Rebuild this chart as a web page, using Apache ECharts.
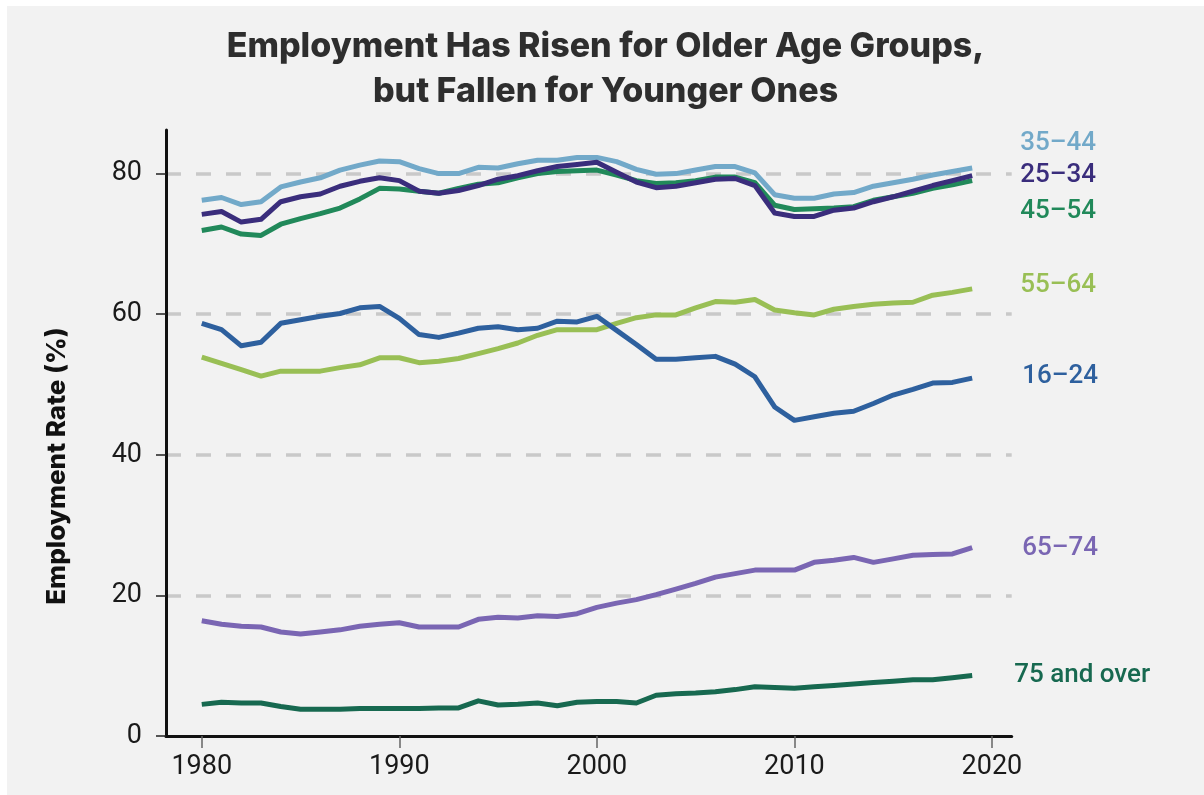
<!DOCTYPE html>
<html>
<head>
<meta charset="utf-8">
<script src="https://cdn.jsdelivr.net/npm/echarts@6/dist/echarts.min.js"></script>
<style>
  html, body { margin: 0; padding: 0; background: #ffffff; width: 1204px; height: 795px; overflow: hidden; }
  #chart { position: absolute; left: 7px; top: 6px; width: 1197px; height: 789px; background: #f2f2f2; }
</style>
</head>
<body>
<div id="chart"></div>
<script>
const years = [1980,1981,1982,1983,1984,1985,1986,1987,1988,1989,
               1990,1991,1992,1993,1994,1995,1996,1997,1998,1999,
               2000,2001,2002,2003,2004,2005,2006,2007,2008,2009,
               2010,2011,2012,2013,2014,2015,2016,2017,2018,2019];

const age35_44 = [76.2,76.6,75.6,76.0,78.1,78.8,79.4,80.5,81.2,81.8,
                  81.7,80.7,80.0,80.0,80.9,80.8,81.4,81.9,81.9,82.3,
                  82.3,81.7,80.6,79.9,80.0,80.5,81.0,81.0,80.1,77.0,
                  76.5,76.5,77.1,77.3,78.2,78.7,79.2,79.8,80.3,80.8];
const age25_34 = [74.2,74.6,73.1,73.5,76.0,76.7,77.1,78.2,78.9,79.4,
                  79.0,77.5,77.2,77.6,78.3,79.2,79.7,80.4,81.0,81.3,
                  81.6,80.2,78.8,78.0,78.2,78.7,79.2,79.3,78.3,74.4,
                  73.9,73.9,74.8,75.1,76.0,76.7,77.5,78.3,79.0,79.7];
const age45_54 = [71.9,72.4,71.4,71.2,72.8,73.6,74.3,75.1,76.4,77.9,
                  77.8,77.5,77.2,77.9,78.5,78.7,79.4,80.0,80.3,80.4,
                  80.5,79.8,79.0,78.6,78.7,79.0,79.5,79.5,78.7,75.5,
                  74.9,75.0,75.1,75.3,76.2,76.7,77.2,77.9,78.4,79.0];
const age55_64 = [53.9,53.0,52.1,51.2,51.9,51.9,51.9,52.4,52.8,53.8,
                  53.8,53.1,53.3,53.7,54.4,55.1,55.9,57.0,57.8,57.8,
                  57.8,58.7,59.5,59.9,59.9,60.9,61.8,61.7,62.1,60.6,
                  60.2,59.9,60.7,61.1,61.4,61.6,61.7,62.7,63.1,63.6];
const age16_24 = [58.7,57.8,55.5,56.0,58.7,59.2,59.7,60.1,60.9,61.1,
                  59.4,57.1,56.7,57.3,58.0,58.2,57.8,58.0,59.0,58.9,
                  59.7,57.7,55.7,53.6,53.6,53.8,54.0,52.9,51.1,46.8,
                  44.9,45.4,45.9,46.2,47.3,48.5,49.3,50.2,50.3,50.9];
const age65_74 = [16.4,15.9,15.6,15.5,14.8,14.5,14.8,15.1,15.6,15.9,
                  16.1,15.5,15.5,15.5,16.6,16.9,16.8,17.1,17.0,17.4,
                  18.3,18.9,19.4,20.1,20.9,21.7,22.6,23.1,23.6,23.6,
                  23.6,24.7,25.0,25.4,24.7,25.2,25.7,25.8,25.9,26.8];
const age75plus = [4.5,4.8,4.7,4.7,4.2,3.8,3.8,3.8,3.9,3.9,
                   3.9,3.9,4.0,4.0,5.0,4.4,4.5,4.7,4.3,4.8,
                   4.9,4.9,4.7,5.8,6.0,6.1,6.3,6.6,7.0,6.9,
                   6.8,7.0,7.2,7.4,7.6,7.8,8.0,8.0,8.3,8.6];

const xTicks = [1980, 1990, 2000, 2010, 2020];
const yTicks = [0, 20, 40, 60, 80];

const titleText = 'Employment Has Risen for Older Age Groups,\nbut Fallen for Younger Ones';
const yAxisTitle = 'Employment Rate (%)';

// name, values, color, label distance, label vertical offset
const seriesDefs = [
  { name: '75 and over', values: age75plus, color: '#176950', dist: 42, dy: 0 },
  { name: '65–74', values: age65_74, color: '#7a66b3', dist: 50, dy: 1 },
  { name: '55–64', values: age55_64, color: '#99bf55', dist: 48, dy: -3 },
  { name: '16–24', values: age16_24, color: '#2e609e', dist: 50, dy: -2 },
  { name: '45–54', values: age45_54, color: '#21895a', dist: 48, dy: 31 },
  { name: '35–44', values: age35_44, color: '#72a9c9', dist: 48, dy: -24 },
  { name: '25–34', values: age25_34, color: '#3a2d7c', dist: 48, dy: 0 }
];

const chart = echarts.init(document.getElementById('chart'), null, { renderer: 'canvas' });

const tickFont = 'Roboto, "Liberation Sans", sans-serif';

const option = {
  animation: false,
  backgroundColor: '#f2f2f2',
  grid: { left: 159, right: 192.3, top: 124, bottom: 59, containLabel: false },
  xAxis: {
    type: 'value',
    min: 1978.19,
    max: 2021.0,
    axisLine: { show: true, lineStyle: { color: '#111', width: 3 } },
    axisTick: { show: true, customValues: xTicks, length: 12, lineStyle: { color: '#666', width: 1.5 } },
    axisLabel: { show: true, customValues: xTicks, margin: 18, color: '#1a1a1a', fontSize: 27, fontFamily: tickFont,
                 formatter: v => String(v) },
    splitLine: { show: false }
  },
  yAxis: {
    type: 'value',
    min: 0,
    max: 86.2,
    interval: 20,
    axisLine: { show: true, lineStyle: { color: '#111', width: 3 } },
    axisTick: { show: true, customValues: yTicks, length: 10, lineStyle: { color: '#222', width: 1.5 } },
    axisLabel: { show: true, customValues: yTicks, margin: 24, color: '#1a1a1a', fontSize: 27, fontFamily: tickFont },
    splitLine: { show: true, showMinLine: false, showMaxLine: true,
                 lineStyle: { color: '#c9c9c9', width: 3.5, type: [15, 15] } }
  },
  graphic: [
    {
      type: 'text',
      left: 'center',
      top: 18,
      style: {
        text: titleText,
        font: '800 34px Inter, Lato, sans-serif',
        fill: '#2e2e2e',
        align: 'center',
        textAlign: 'center',
        lineHeight: 45
      }
    },
    {
      type: 'text',
      x: 50,
      y: 460,
      rotation: Math.PI / 2,
      style: {
        text: yAxisTitle,
        font: '800 26px Inter, Lato, sans-serif',
        fill: '#111111',
        align: 'center',
        verticalAlign: 'middle',
        textAlign: 'center',
        textVerticalAlign: 'middle'
      }
    }
  ],
  series: seriesDefs.map(d => ({
    name: d.name,
    type: 'line',
    data: years.map((y, i) => [y, d.values[i]]),
    showSymbol: false,
    symbol: 'none',
    smooth: false,
    lineStyle: { color: d.color, width: 5, cap: 'butt', join: 'round' },
    itemStyle: { color: d.color },
    emphasis: { disabled: true },
    endLabel: {
      show: true,
      formatter: d.name,
      distance: d.dist,
      offset: [0, d.dy],
      color: d.color,
      fontSize: 26,
      fontWeight: 500,
      fontFamily: tickFont
    }
  }))
};

chart.setOption(option);
</script>
</body>
</html>
